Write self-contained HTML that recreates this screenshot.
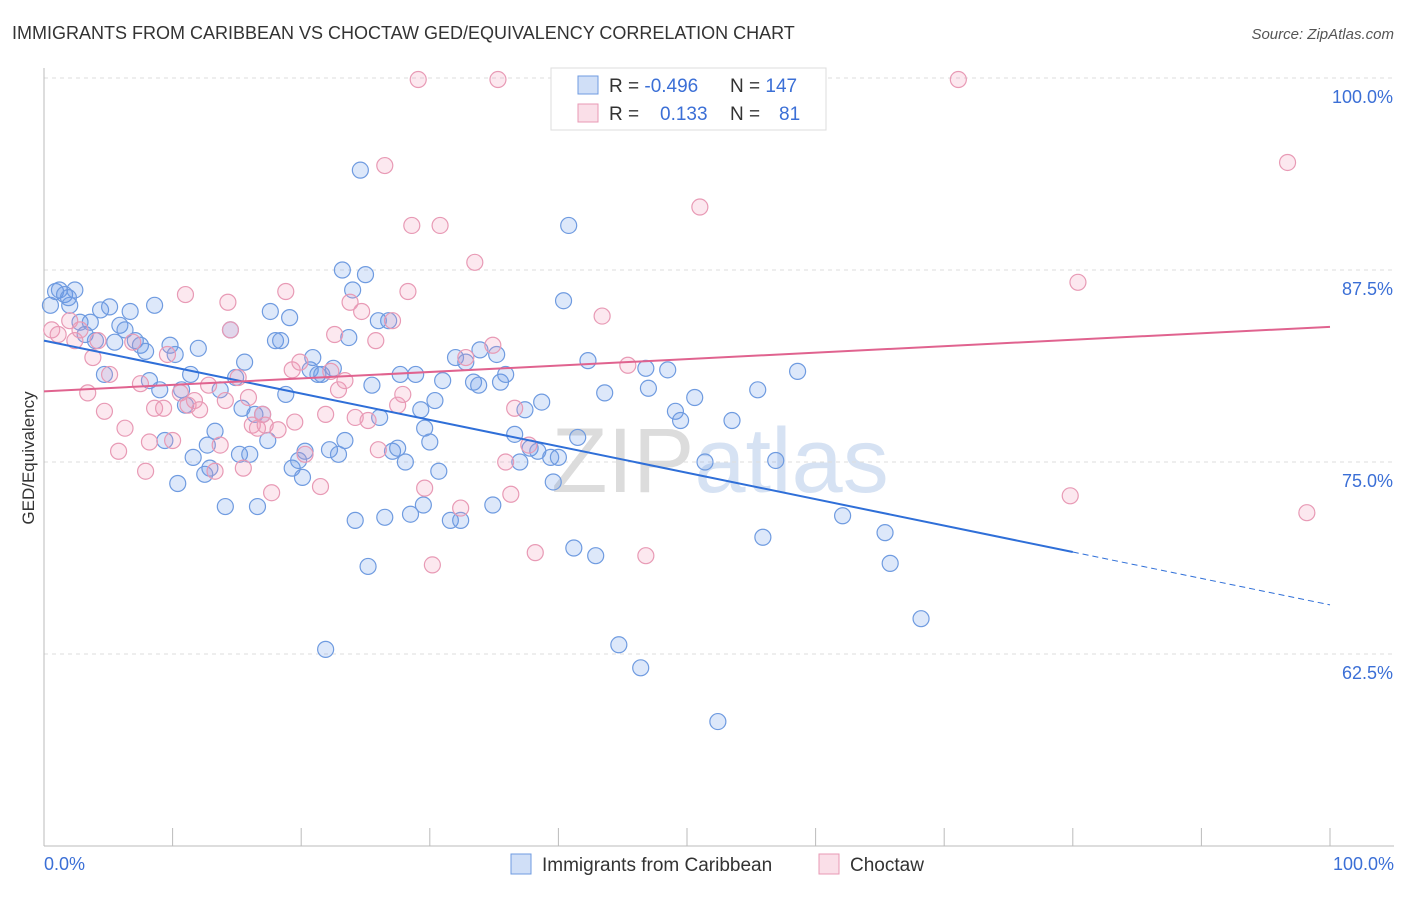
<!DOCTYPE html>
<html><head><meta charset="utf-8"><style>
body{margin:0;background:#fff;font-family:"Liberation Sans",sans-serif}
svg text{font-family:"Liberation Sans",sans-serif}
</style></head><body>
<svg id="chart" width="1406" height="892" viewBox="0 0 1406 892">
<text x="12" y="39" font-size="18" fill="#333">IMMIGRANTS FROM CARIBBEAN VS CHOCTAW GED/EQUIVALENCY CORRELATION CHART</text>
<text x="1394" y="39" font-size="15" fill="#555" font-style="italic" text-anchor="end">Source: ZipAtlas.com</text>
<text x="720" y="492" font-size="92" fill="#e4e8ee" text-anchor="middle" font-family="Liberation Serif"><tspan fill="#dcdcdc">ZIP</tspan><tspan fill="#d6e2f3" font-family="Liberation Sans">atlas</tspan></text>
<g id="grid"></g>
<g id="axes"></g>
<g id="marks"></g>
<text transform="translate(34,458) rotate(-90)" font-size="17" fill="#333" text-anchor="middle">GED/Equivalency</text>
<g>
<rect x="551" y="68" width="275" height="62" fill="#fff" stroke="#ddd"/>
<rect x="578" y="76" width="20" height="18" fill="rgba(100,150,230,0.3)" stroke="#6f9be0"/>
<rect x="578" y="104" width="20" height="18" fill="rgba(240,150,180,0.3)" stroke="#e89ab5"/>
<text x="609" y="92" font-size="19" fill="#333">R = <tspan fill="#3b6fd6">-0.496</tspan></text>
<text x="730" y="92" font-size="19" fill="#333">N = <tspan fill="#3b6fd6">147</tspan></text>
<text x="609" y="120" font-size="19" fill="#333">R = <tspan fill="#3b6fd6" x="660">0.133</tspan></text>
<text x="730" y="120" font-size="19" fill="#333">N = <tspan fill="#3b6fd6" x="779">81</tspan></text>
</g>
<g>
<rect x="511" y="854" width="20" height="20" fill="rgba(100,150,230,0.3)" stroke="#6f9be0"/>
<text x="542" y="871" font-size="19" fill="#333">Immigrants from Caribbean</text>
<rect x="819" y="854" width="20" height="20" fill="rgba(240,150,180,0.3)" stroke="#e89ab5"/>
<text x="850" y="871" font-size="19" fill="#333">Choctaw</text>
</g>
</svg>
<script>
const blueX=[0.5,0.9,1.2,1.6,2.0,2.4,1.9,2.8,3.2,3.6,4.0,4.4,4.7,5.1,5.5,5.9,6.3,6.7,7.1,7.5,7.9,8.2,8.6,9.0,9.4,9.8,10.2,10.4,10.7,11.0,11.4,11.6,12.0,12.5,12.7,12.9,13.3,13.7,14.1,14.5,14.9,15.2,15.4,15.6,16.0,16.4,16.6,17.0,17.4,17.6,18.0,18.4,18.8,19.1,19.3,19.8,20.1,20.3,20.7,20.9,21.3,21.6,21.9,22.2,22.5,22.9,23.2,23.4,23.7,24.0,24.2,24.6,25.0,25.2,25.5,26.0,26.1,26.5,26.8,27.1,27.5,27.7,28.1,28.5,28.9,29.3,29.5,29.6,30.0,30.4,30.7,31.0,31.6,32.0,32.4,32.8,33.4,33.8,33.9,34.9,35.2,35.5,35.9,36.6,37.0,37.4,37.8,38.4,38.7,39.4,39.6,40.0,40.4,40.8,41.2,41.5,42.3,42.9,43.6,44.7,46.4,46.8,47.0,48.5,49.1,49.5,50.6,51.4,52.4,53.5,55.5,55.9,56.9,58.6,62.1,65.4,65.8,68.2];
const blueY=[85.2,86.1,86.2,85.9,85.2,86.2,85.7,84.1,83.3,84.1,82.9,84.9,80.7,85.1,82.8,83.9,83.6,84.8,82.9,82.6,82.2,80.3,85.2,79.7,76.4,82.6,82.0,73.6,79.7,78.7,80.7,75.3,82.4,74.2,76.1,74.6,77.0,79.7,72.1,83.6,80.5,75.5,78.5,81.5,75.5,78.1,72.1,78.1,76.4,84.8,82.9,82.9,79.4,84.4,74.6,75.1,74.0,75.7,81.0,81.8,80.7,80.7,62.8,75.8,81.1,75.5,87.5,76.4,83.1,86.2,71.2,94.0,87.2,68.2,80.0,84.2,77.9,71.4,84.2,75.7,75.9,80.7,75.0,71.6,80.7,78.4,72.2,77.2,76.3,79.0,74.4,80.3,71.2,81.8,71.2,81.5,80.2,80.0,82.3,72.2,82.0,80.2,80.7,76.8,75.0,78.4,75.9,75.7,78.9,75.3,73.7,75.3,85.5,90.4,69.4,76.6,81.6,68.9,79.5,63.1,61.6,81.1,79.8,81.0,78.3,77.7,79.2,75.0,58.1,77.7,79.7,70.1,75.1,80.9,71.5,70.4,68.4,64.8];
const pinkX=[0.6,1.1,2.0,2.4,2.8,3.4,3.8,4.2,4.7,5.1,5.8,6.3,6.9,7.5,7.9,8.2,8.6,9.3,9.6,10.0,10.6,11.0,11.2,11.7,12.1,12.8,13.3,13.7,14.1,14.3,14.5,15.1,15.5,15.9,16.2,16.6,17.0,17.2,17.7,18.2,18.8,19.3,19.5,19.9,20.3,21.5,21.9,22.3,22.6,22.9,23.4,23.8,24.2,24.7,25.2,25.8,26.0,26.5,27.1,27.5,27.9,28.3,28.6,29.1,29.6,30.2,30.8,32.4,32.8,33.5,34.9,35.3,35.9,36.3,36.6,37.7,38.2,43.4,45.4,46.8,51.0,71.1,79.8,80.4,96.7,98.2];
const pinkY=[83.6,83.3,84.2,82.9,83.6,79.5,81.8,82.9,78.3,80.7,75.7,77.2,82.8,80.1,74.4,76.3,78.5,78.5,82.0,76.4,79.5,85.9,78.7,79.0,78.4,80.0,74.4,76.1,79.0,85.4,83.6,80.5,74.6,79.2,77.4,77.2,78.1,77.4,73.0,77.1,86.1,81.0,77.6,81.5,75.5,73.4,78.1,80.9,83.3,79.7,80.3,85.4,77.9,84.8,77.7,82.9,75.8,94.3,84.2,78.7,79.4,86.1,90.4,99.9,73.3,68.3,90.4,72.0,81.8,88.0,82.6,99.9,75.0,72.9,78.5,76.1,69.1,84.5,81.3,68.9,91.6,99.9,72.8,86.7,94.5,71.7];
const blueTrend=[82.9,-0.172];
const pinkTrend=[79.6,0.042];
const yTicks=[100,87.5,75,62.5];
const yTickLabels=["100.0%","87.5%","75.0%","62.5%"];
const xTicks=[0,10,20,30,40,50,60,70,80,90,100];

const X0=44,X1=1330,Ytop=78,Ybot=846;
function sx(v){return X0+(v/100)*(X1-X0);}
function sy(v){return Ybot-(v-50)/50*(Ybot-Ytop);}
const NS="http://www.w3.org/2000/svg";
function mk(tag,attrs,parent){const e=document.createElementNS(NS,tag);for(const k in attrs)e.setAttribute(k,attrs[k]);parent.appendChild(e);return e;}
const grid=document.getElementById('grid'),axes=document.getElementById('axes'),marks=document.getElementById('marks');
yTicks.forEach((t,i)=>{
  const l=mk('line',{x1:X0,x2:1394,y1:sy(t),y2:sy(t),stroke:'#ddd','stroke-dasharray':'4,4'},grid);
  
  
  const tx=mk('text',{x:1393,y:sy(t)+25,'font-size':18,fill:'#3b6fd6','text-anchor':'end'},axes);
  tx.textContent=yTickLabels[i];
  
  
});
const xa=mk('line',{x1:X0,x2:1394,y1:Ybot,y2:Ybot,stroke:'#bbb'},axes);


const ya=mk('line',{x1:X0,x2:X0,y1:68,y2:Ybot,stroke:'#bbb'},axes);


xTicks.forEach(t=>{
  const l=mk('line',{x1:sx(t),x2:sx(t),y1:Ybot,y2:Ybot-18,stroke:'#bbb'},axes);
  
  
});
const xl0=mk('text',{x:44,y:870,'font-size':18,fill:'#3b6fd6'},axes);xl0.textContent='0.0%';


const xl1=mk('text',{x:1394,y:870,'font-size':18,fill:'#3b6fd6','text-anchor':'end'},axes);xl1.textContent='100.0%';



blueX.forEach((v,i)=>{
  const c=mk('circle',{cx:sx(v),cy:sy(blueY[i]),r:8,fill:'rgba(100,150,230,0.22)',stroke:'#6f9be0','stroke-width':1.2},marks);
  
  
});
pinkX.forEach((v,i)=>{
  const c=mk('circle',{cx:sx(v),cy:sy(pinkY[i]),r:8,fill:'rgba(240,150,180,0.22)',stroke:'#e89ab5','stroke-width':1.2},marks);
  
  
});
const bt=v=>blueTrend[0]+blueTrend[1]*v, pt=v=>pinkTrend[0]+pinkTrend[1]*v;
const b1=mk('line',{x1:sx(0),y1:sy(bt(0)),x2:sx(80),y2:sy(bt(80)),stroke:'#2f6fd8','stroke-width':2},marks);


const b2=mk('line',{x1:sx(80),y1:sy(bt(80)),x2:sx(100),y2:sy(bt(100)),stroke:'#2f6fd8','stroke-width':1,'stroke-dasharray':'6,4'},marks);


const p1=mk('line',{x1:sx(0),y1:sy(pt(0)),x2:sx(100),y2:sy(pt(100)),stroke:'#e0638f','stroke-width':2},marks);


</script>
</body></html>
